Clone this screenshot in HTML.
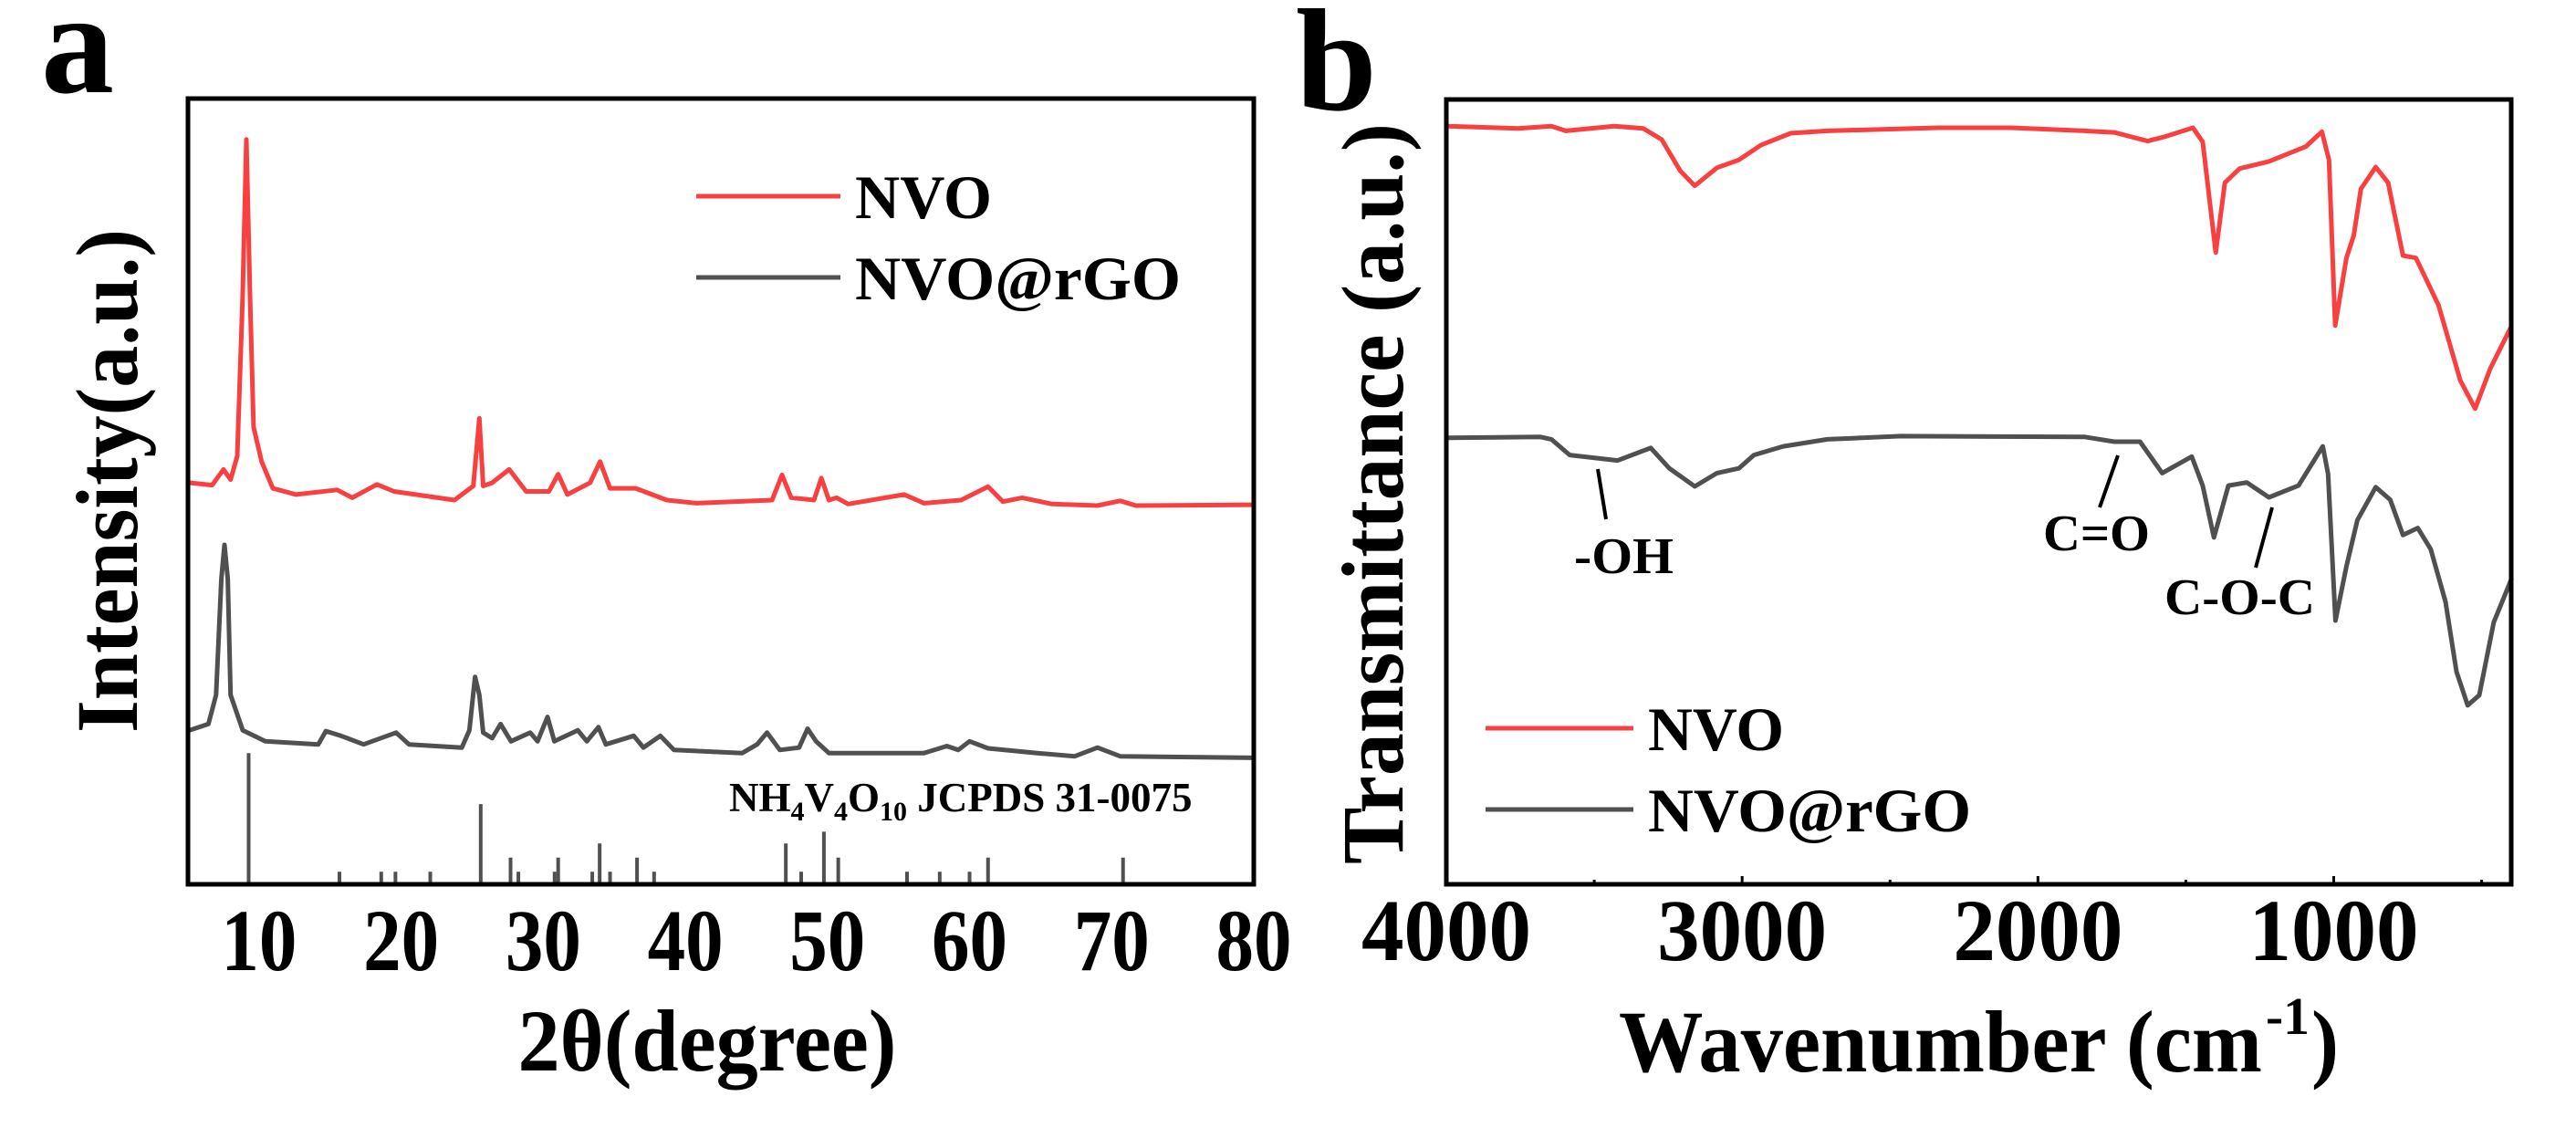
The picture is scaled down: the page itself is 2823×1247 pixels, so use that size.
<!DOCTYPE html>
<html><head><meta charset="utf-8">
<style>
html,body{margin:0;padding:0;background:#fff;}
svg{display:block;font-family:"Liberation Serif","Times New Roman",serif;font-weight:bold;}
</style></head>
<body>
<svg id="fig" width="2823" height="1247" viewBox="0 0 2823 1247" xmlns="http://www.w3.org/2000/svg">
  <rect x="0" y="0" width="2823" height="1247" fill="#fff"/>
  <text x="45" y="101" font-size="160">a</text>
  <text x="1420" y="120" font-size="160">b</text>

  <!-- Panel a -->
  <g id="pa">
    <g id="pa-data"></g>
    <rect x="206" y="108" width="1168" height="861" fill="none" stroke="#000" stroke-width="5"/>
    <g id="pa-ticks"></g>
    <text x="775" y="1173" font-size="96" text-anchor="middle" textLength="415" lengthAdjust="spacingAndGlyphs">2θ(degree)</text>
    <text transform="translate(150,527) rotate(-90)" font-size="96" text-anchor="middle" textLength="552" lengthAdjust="spacingAndGlyphs">Intensity(a.u.)</text>
    <line x1="763" y1="215" x2="921" y2="215" stroke="#f94040" stroke-width="5"/>
    <text x="937" y="239" font-size="68" textLength="150" lengthAdjust="spacingAndGlyphs">NVO</text>
    <line x1="763" y1="304" x2="921" y2="304" stroke="#505050" stroke-width="5"/>
    <text x="937" y="328" font-size="68" textLength="357" lengthAdjust="spacingAndGlyphs">NVO@rGO</text>
    <text x="799" y="889" font-size="45">NH<tspan font-size="30" dy="10">4</tspan><tspan dy="-10">V</tspan><tspan font-size="30" dy="10">4</tspan><tspan dy="-10">O</tspan><tspan font-size="30" dy="10">10</tspan><tspan dy="-10"> JCPDS 31-0075</tspan></text>
  </g>

  <!-- Panel b -->
  <g id="pb">
    <g id="pb-data"></g>
    <rect x="1585" y="109" width="1167" height="860" fill="none" stroke="#000" stroke-width="5"/>
    <g id="pb-ticks"></g>
    <text x="1774" y="1174" font-size="96" textLength="705" lengthAdjust="spacingAndGlyphs">Wavenumber (cm</text>
    <text x="2483" y="1133" font-size="58" textLength="48" lengthAdjust="spacingAndGlyphs">-1</text>
    <text x="2533" y="1174" font-size="96" textLength="30" lengthAdjust="spacingAndGlyphs">)</text>
    <text transform="translate(1537,541) rotate(-90)" font-size="96" text-anchor="middle" textLength="812" lengthAdjust="spacingAndGlyphs">Transmittance (a.u.)</text>
    <line x1="1628" y1="798" x2="1790" y2="798" stroke="#f94040" stroke-width="5"/>
    <text x="1806" y="822" font-size="68" textLength="149" lengthAdjust="spacingAndGlyphs">NVO</text>
    <line x1="1628" y1="887" x2="1790" y2="887" stroke="#505050" stroke-width="5"/>
    <text x="1806" y="911" font-size="68" textLength="354" lengthAdjust="spacingAndGlyphs">NVO@rGO</text>
    <line x1="1751" y1="514" x2="1760" y2="569" stroke="#000" stroke-width="4"/>
    <text x="1725" y="628" font-size="56" textLength="109" lengthAdjust="spacingAndGlyphs">-OH</text>
    <line x1="2321" y1="499" x2="2301" y2="556" stroke="#000" stroke-width="4"/>
    <text x="2239" y="603" font-size="56" textLength="117" lengthAdjust="spacingAndGlyphs">C=O</text>
    <line x1="2490" y1="556" x2="2472" y2="622" stroke="#000" stroke-width="4"/>
    <text x="2372" y="673" font-size="56" textLength="165" lengthAdjust="spacingAndGlyphs">C-O-C</text>
  </g>
</svg>
<script>
// ---- Panel a (XRD) data ----
const xrdNvoX = [5.1,6.7,7.5,8.0,8.47,8.84,9.11,9.37,9.62,10.18,10.97,12.6,15.5,16.56,18.3,19.5,23.75,25.08,25.5,25.77,26.4,27.6,28.8,30.4,31.05,31.7,33.3,34.0,34.7,36.5,38.7,40.8,46.1,46.8,47.45,49.05,49.57,50.1,50.65,51.45,55.4,56.8,59.4,61.3,62.35,63.7,65.8,69.0,70.6,71.7,80];
const xrdNvoY = [51.1,50.8,52.8,51.5,54.5,74.4,94.8,74.4,58.2,53.8,50.4,49.6,50.2,49.2,50.9,50.0,48.9,50.7,59.3,50.7,51.1,52.8,50.0,50.0,52.2,49.6,51.1,53.8,50.4,50.4,48.9,48.5,48.9,52.1,49.2,48.9,51.7,48.9,49.2,48.4,49.6,48.5,48.9,50.6,48.7,49.2,48.4,48.2,48.8,48.2,48.3];
const xrdRgoX = [5.1,6.44,6.98,7.35,7.57,7.8,8.0,8.85,10.44,14.17,14.7,15.76,17.36,19.65,20.55,24.27,24.8,25.2,25.5,25.77,26.4,27.0,27.73,29.08,29.6,30.3,30.78,32.43,33.07,33.88,34.4,36.37,37.05,38.24,39.2,44.0,45.05,45.75,46.65,48.0,48.6,49.2,50.1,54.1,56.8,58.4,59.2,60.0,61.3,64.76,67.4,69.0,70.6,80];
const xrdRgoY = [19.6,20.4,24.1,38.9,43.2,38.9,24.1,19.6,18.2,17.8,19.5,18.9,17.8,19.3,17.8,17.4,19.6,26.4,24.1,19.3,18.6,20.4,18.2,19.3,18.2,21.3,18.2,19.6,18.2,20.0,17.8,18.9,17.4,18.9,17.1,16.7,17.8,19.3,17.1,17.4,19.8,18.2,16.7,16.7,16.7,17.6,17.1,18.2,17.3,16.7,16.3,17.4,16.3,16.1];
const refPos = [9.27,15.66,18.6,19.6,22.05,25.6,27.7,28.25,30.8,31.05,33.45,33.97,34.7,36.6,37.8,47.07,48.15,49.75,50.76,55.6,57.9,60.0,61.3,70.8];
const refInt = [16.7,1.6,1.6,1.6,1.6,10.2,3.4,1.6,1.6,3.4,1.6,5.2,1.6,3.4,1.6,5.2,1.6,6.7,3.4,1.6,1.6,1.6,3.4,3.4];
const xrdTicks = [10,20,30,40,50,60,70,80];
const xrdTickLabels = ["10","20","30","40","50","60","70","80"];

// ---- Panel b (FTIR) data ----
const ftirNvoX = [3994,3757,3645,3596,3433,3334,3272,3209,3160,3085,3011,2936,2836,2712,2338,2091,1841,1742,1629,1567,1476,1443,1399,1368,1318,1219,1094,1040,1016,995,957,932,908,858,816,766,722,646,572,522,471,398];
const ftirNvoY = [96.6,96.3,96.6,96.0,96.6,96.3,94.9,90.9,89.0,91.3,92.3,94.2,95.7,96.0,96.4,96.4,96.0,95.8,94.7,95.3,96.4,94.6,80.5,89.4,91.2,92.1,94.0,95.9,92.3,71.2,79.8,82.7,88.6,91.4,89.4,80.1,79.8,73.8,64.2,60.6,65.7,71.2];
const ftirRgoX = [3994,3682,3645,3583,3421,3309,3246,3160,3085,3011,2960,2861,2712,2463,1841,1742,1655,1580,1480,1443,1405,1356,1294,1219,1119,1037,1019,994,957,920,858,809,766,716,672,622,585,547,508,459,398];
const ftirRgoY = [56.9,57.0,56.7,54.7,54.0,55.6,53.0,50.7,52.4,53.0,54.7,55.8,56.7,57.1,57.0,56.4,56.4,52.4,54.5,50.8,44.2,50.8,51.2,49.3,50.8,55.8,52.3,33.6,40.5,46.4,50.6,49.0,44.5,45.4,42.7,36.0,27.1,22.8,24.1,33.4,39.0];
const ftirMajor = [4000,3000,2000,1000];
const ftirMajorLabels = ["4000","3000","2000","1000"];
const ftirMinor = [3500,2500,1500,500];

const NS = "http://www.w3.org/2000/svg";
function mk(tag, attrs, parent){ const e=document.createElementNS(NS,tag); for(const k in attrs) e.setAttribute(k,attrs[k]); parent.appendChild(e); return e; }

// axes a
const axA = {x0:206,x1:1374,y0:969,y1:108,xmin:5,xmax:80,ymin:0,ymax:100};
const xA = v => axA.x0 + (v-axA.xmin)/(axA.xmax-axA.xmin)*(axA.x1-axA.x0);
const yA = v => axA.y0 - (v-axA.ymin)/(axA.ymax-axA.ymin)*(axA.y0-axA.y1);
// axes b
const axB = {x0:1585,x1:2752,y0:969,y1:109,xmin:4000,xmax:400,ymin:0,ymax:100};
const xB = v => axB.x0 + (v-axB.xmin)/(axB.xmax-axB.xmin)*(axB.x1-axB.x0);
const yB = v => axB.y0 - (v-axB.ymin)/(axB.ymax-axB.ymin)*(axB.y0-axB.y1);

function pathD(xs, ys, fx, fy){ return xs.map((v,i)=>(i?"L":"M")+fx(v).toFixed(1)+","+fy(ys[i]).toFixed(1)).join(""); }

const pa = document.getElementById("pa-data");
for(let i=0;i<refPos.length;i++){
  const s = mk("line",{x1:xA(refPos[i]),x2:xA(refPos[i]),y1:yA(0),y2:yA(refInt[i]),stroke:"#505050","stroke-width":4},pa);
  
  
}
const pr = mk("path",{d:pathD(xrdNvoX,xrdNvoY,xA,yA),fill:"none",stroke:"#f94040","stroke-width":5,"stroke-linejoin":"round"},pa);


const pg = mk("path",{d:pathD(xrdRgoX,xrdRgoY,xA,yA),fill:"none",stroke:"#505050","stroke-width":5,"stroke-linejoin":"round"},pa);



const pat = document.getElementById("pa-ticks");
xrdTicks.forEach((t,i)=>{
  const tx = mk("text",{x:xA(t),y:1063,"font-size":96,"text-anchor":"middle",textLength:83,lengthAdjust:"spacingAndGlyphs"},pat);
  tx.textContent = xrdTickLabels[i];
  
  
});

const pb = document.getElementById("pb-data");
const br = mk("path",{d:pathD(ftirNvoX,ftirNvoY,xB,yB),fill:"none",stroke:"#f94040","stroke-width":5,"stroke-linejoin":"round"},pb);


const bg = mk("path",{d:pathD(ftirRgoX,ftirRgoY,xB,yB),fill:"none",stroke:"#505050","stroke-width":5,"stroke-linejoin":"round"},pb);



const pbt = document.getElementById("pb-ticks");
ftirMajor.forEach((t,i)=>{
  const tk = mk("line",{x1:xB(t),x2:xB(t),y1:969,y2:960,stroke:"#000","stroke-width":3},pbt);
  
  
  const tx = mk("text",{x:xB(t),y:1052,"font-size":96,"text-anchor":"middle",textLength:186,lengthAdjust:"spacingAndGlyphs"},pbt);
  tx.textContent = ftirMajorLabels[i];
  
  
});
ftirMinor.forEach(t=>{
  const tk = mk("line",{x1:xB(t),x2:xB(t),y1:969,y2:964,stroke:"#000","stroke-width":3},pbt);
  
  
});
</script>
</body></html>
